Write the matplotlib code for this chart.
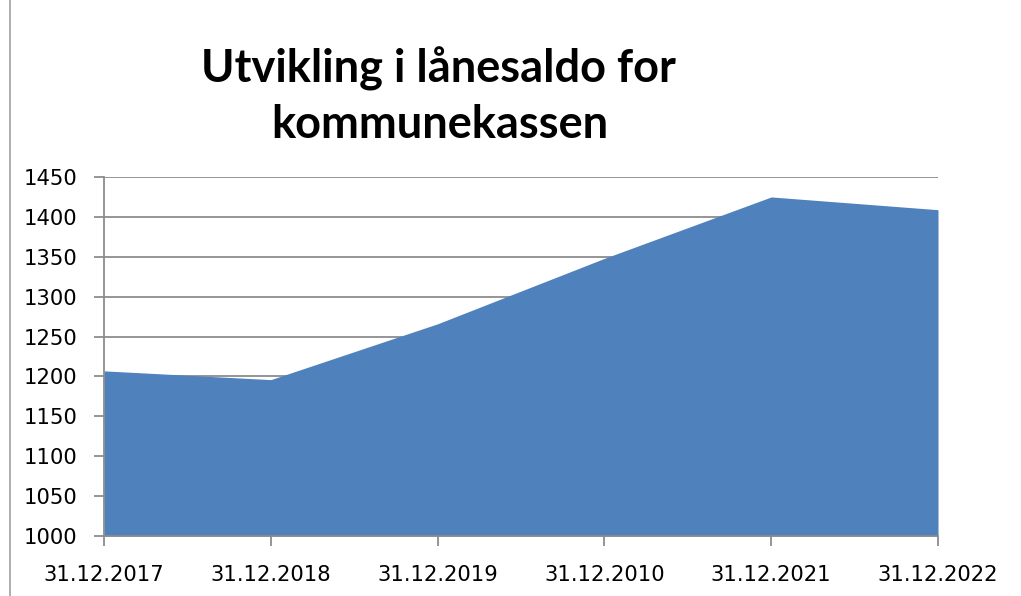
import matplotlib
matplotlib.use("Agg")
import matplotlib.pyplot as plt

# Loan balance for the municipal treasury (mill. kr)
dates = ["31.12.2017", "31.12.2018", "31.12.2019", "31.12.2010", "31.12.2021", "31.12.2022"]
saldo = [1207, 1196, 1266, 1348, 1425, 1409]
y_ticks = [1000, 1050, 1100, 1150, 1200, 1250, 1300, 1350, 1400, 1450]

W, H = 1021, 596
fig = plt.figure(figsize=(W / 100, H / 100), dpi=100)
fig.patch.set_facecolor("white")

left, right, top, bottom = 104, 938, 177, 536
ax = fig.add_axes([left / W, 1 - bottom / H, (right - left) / W, (bottom - top) / H])

x = list(range(len(dates)))
ax.fill_between(x, y_ticks[0], saldo, color="#4F81BD", linewidth=0, zorder=2)

ax.set_xlim(0, len(dates) - 1)
ax.set_ylim(y_ticks[0], y_ticks[-1])
ax.set_yticks(y_ticks)
ax.set_xticks(x)
ax.set_xticklabels(dates)

grid_color = "#8C8C8C"
ax.yaxis.grid(True, color=grid_color, linewidth=1.3, zorder=1)
ax.set_axisbelow(True)
for side in ["top", "right"]:
    ax.spines[side].set_visible(False)
for side in ["left", "bottom"]:
    ax.spines[side].set_color(grid_color)
    ax.spines[side].set_linewidth(1.3)
    ax.spines[side].set_zorder(3)

ax.tick_params(axis="both", colors=grid_color, width=1.3, length=7, labelcolor="black",
               labelsize=15.2)
ax.tick_params(axis="y", pad=12)
ax.tick_params(axis="x", pad=14)

fig.text(438 / W, 1 - 69 / H, "Utvikling i lånesaldo for", ha="center", va="center",
         fontsize=32.5, fontweight="bold", family="Lato")
fig.text(440 / W, 1 - 125 / H, "kommunekassen", ha="center", va="center",
         fontsize=32.5, fontweight="bold", family="Lato")

# vertical rule along the left edge
fig.add_artist(plt.Line2D([10 / W, 10 / W], [0, 1], color="#A0A0A0", linewidth=1.2))

fig.savefig("out.png", dpi=100, facecolor="white")
